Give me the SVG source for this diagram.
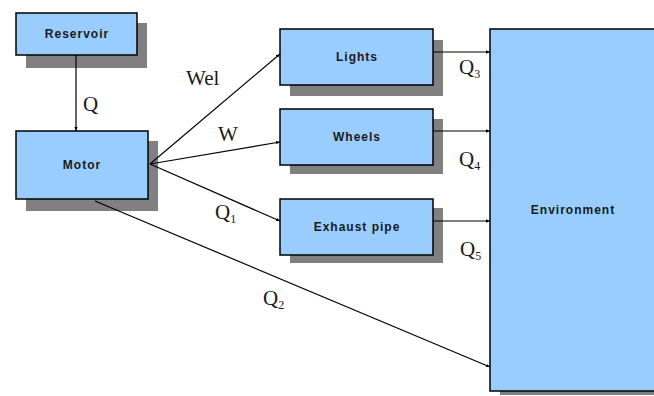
<svg xmlns="http://www.w3.org/2000/svg" width="654" height="396" viewBox="0 0 654 396">
<defs>
<marker id="ah" viewBox="0 0 6 6" refX="6" refY="3" markerWidth="4" markerHeight="4" orient="auto" markerUnits="userSpaceOnUse"><path d="M0,0.5 L6,3 L0,5.5 z" fill="#000"/></marker>
</defs>
<style>
.sh{fill:#808080}
.bx{fill:#99ccff;stroke:#000;stroke-width:1.5}
.bt{font-family:"Liberation Sans",Arial,sans-serif;font-weight:bold;font-size:12px;letter-spacing:1px;fill:#1a1a1a;text-anchor:middle}
.lb{font-family:"Liberation Serif","Times New Roman",serif;font-size:21px;fill:#1a1a1a}
.sub{font-size:12px}
.cn{stroke:#000;stroke-width:1.2;fill:none;marker-end:url(#ah)}
</style>
<rect width="654" height="396" fill="#fff"/>
<g id="reservoir">
<rect class="sh" x="26" y="23" width="121" height="45"/>
<rect class="bx" x="16" y="13" width="121" height="42"/>
<text class="bt" x="77" y="38">Reservoir</text>
</g>
<g id="motor">
<rect class="sh" x="26" y="141" width="132" height="70"/>
<rect class="bx" x="16" y="131" width="132" height="68"/>
<text class="bt" x="82" y="169">Motor</text>
</g>
<g id="lights">
<rect class="sh" x="290" y="40" width="153" height="56"/>
<rect class="bx" x="280" y="29" width="153" height="56"/>
<text class="bt" x="357" y="61">Lights</text>
</g>
<g id="wheels">
<rect class="sh" x="290" y="119" width="153" height="55"/>
<rect class="bx" x="280" y="109" width="153" height="56"/>
<text class="bt" x="357" y="141">Wheels</text>
</g>
<g id="exhaust">
<rect class="sh" x="290" y="208" width="153" height="55"/>
<rect class="bx" x="280" y="199" width="153" height="56"/>
<text class="bt" x="357" y="231">Exhaust pipe</text>
</g>
<g id="environment">
<rect class="sh" x="500" y="39" width="170" height="356"/>
<rect class="bx" x="490" y="29" width="180" height="362"/>
<text class="bt" x="573" y="214">Environment</text>
</g>
<g id="connectors">
<line class="cn" x1="76" y1="55" x2="76" y2="131"/>
<line class="cn" x1="150" y1="164" x2="280" y2="54"/>
<line class="cn" x1="150" y1="164" x2="280" y2="142"/>
<line class="cn" x1="150" y1="164" x2="280" y2="221"/>
<line class="cn" x1="95" y1="201" x2="490" y2="367"/>
<line class="cn" x1="433" y1="52" x2="490" y2="52"/>
<line class="cn" x1="433" y1="131" x2="490" y2="131"/>
<line class="cn" x1="433" y1="221" x2="490" y2="221"/>
</g>
<g id="labels">
<text class="lb" x="83" y="111">Q</text>
<text class="lb" x="186" y="85">Wel</text>
<text class="lb" x="218" y="141">W</text>
<text class="lb" x="215" y="219">Q<tspan class="sub" dy="4">1</tspan></text>
<text class="lb" x="263" y="305">Q<tspan class="sub" dy="4">2</tspan></text>
<text class="lb" x="459" y="74">Q<tspan class="sub" dy="4">3</tspan></text>
<text class="lb" x="459" y="166">Q<tspan class="sub" dy="4">4</tspan></text>
<text class="lb" x="460" y="256">Q<tspan class="sub" dy="4">5</tspan></text>
</g>
</svg>
